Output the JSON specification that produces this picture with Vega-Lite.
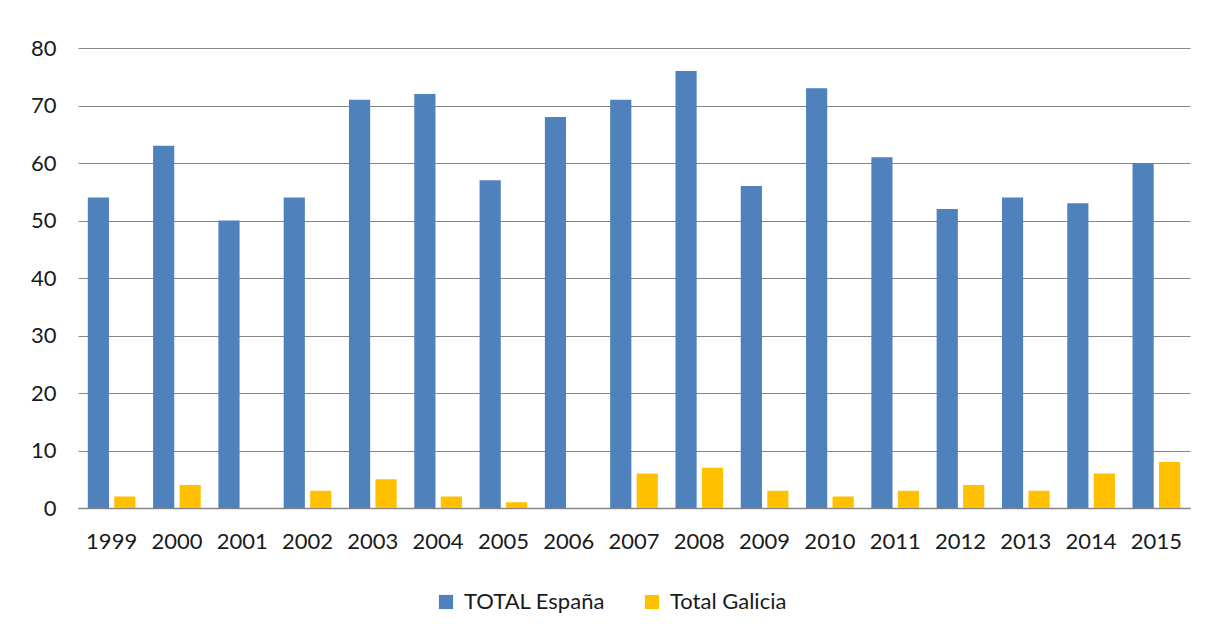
{
  "$schema": "https://vega.github.io/schema/vega-lite/v6.json",
  "width": 1112,
  "height": 460,
  "autosize": {"type": "none"},
  "padding": {"left": 78, "top": 48, "right": 18, "bottom": 132},
  "background": "white",
  "config": {
    "view": {"stroke": null},
    "font": "Lato",
    "axis": {"labelFont": "Lato", "labelColor": "#1a1a1a"},
    "legend": {"labelFont": "Lato"}
  },
  "data": {
    "values": [
      {"year": "1999", "series": "TOTAL España", "value": 54},
      {"year": "2000", "series": "TOTAL España", "value": 63},
      {"year": "2001", "series": "TOTAL España", "value": 50},
      {"year": "2002", "series": "TOTAL España", "value": 54},
      {"year": "2003", "series": "TOTAL España", "value": 71},
      {"year": "2004", "series": "TOTAL España", "value": 72},
      {"year": "2005", "series": "TOTAL España", "value": 57},
      {"year": "2006", "series": "TOTAL España", "value": 68},
      {"year": "2007", "series": "TOTAL España", "value": 71},
      {"year": "2008", "series": "TOTAL España", "value": 76},
      {"year": "2009", "series": "TOTAL España", "value": 56},
      {"year": "2010", "series": "TOTAL España", "value": 73},
      {"year": "2011", "series": "TOTAL España", "value": 61},
      {"year": "2012", "series": "TOTAL España", "value": 52},
      {"year": "2013", "series": "TOTAL España", "value": 54},
      {"year": "2014", "series": "TOTAL España", "value": 53},
      {"year": "2015", "series": "TOTAL España", "value": 60},
      {"year": "1999", "series": "Total Galicia", "value": 2},
      {"year": "2000", "series": "Total Galicia", "value": 4},
      {"year": "2001", "series": "Total Galicia", "value": 0},
      {"year": "2002", "series": "Total Galicia", "value": 3},
      {"year": "2003", "series": "Total Galicia", "value": 5},
      {"year": "2004", "series": "Total Galicia", "value": 2},
      {"year": "2005", "series": "Total Galicia", "value": 1},
      {"year": "2006", "series": "Total Galicia", "value": 0},
      {"year": "2007", "series": "Total Galicia", "value": 6},
      {"year": "2008", "series": "Total Galicia", "value": 7},
      {"year": "2009", "series": "Total Galicia", "value": 3},
      {"year": "2010", "series": "Total Galicia", "value": 2},
      {"year": "2011", "series": "Total Galicia", "value": 3},
      {"year": "2012", "series": "Total Galicia", "value": 4},
      {"year": "2013", "series": "Total Galicia", "value": 3},
      {"year": "2014", "series": "Total Galicia", "value": 6},
      {"year": "2015", "series": "Total Galicia", "value": 8}
    ]
  },
  "mark": {"type": "bar"},
  "encoding": {
    "x": {
      "field": "year",
      "type": "nominal",
      "scale": {"paddingInner": 0.27, "paddingOuter": 0.15},
      "axis": {
        "title": null,
        "labelAngle": 0,
        "labelFontSize": 22,
        "labelPadding": 23,
        "ticks": false,
        "domainColor": "#868686",
        "domainWidth": 1.5
      }
    },
    "xOffset": {
      "field": "series",
      "type": "nominal",
      "scale": {"paddingInner": 0.2}
    },
    "y": {
      "field": "value",
      "type": "quantitative",
      "scale": {"domain": [0, 80]},
      "axis": {
        "title": null,
        "values": [0, 10, 20, 30, 40, 50, 60, 70, 80],
        "labelFontSize": 22,
        "labelPadding": 22,
        "ticks": false,
        "domain": false,
        "gridColor": "#868686",
        "gridWidth": 1
      }
    },
    "color": {
      "field": "series",
      "type": "nominal",
      "scale": {"domain": ["TOTAL España", "Total Galicia"], "range": ["#4F81BD", "#FFC000"]},
      "legend": {
        "title": null,
        "orient": "none",
        "legendX": 357,
        "legendY": 543,
        "direction": "horizontal",
        "labelFontSize": 22,
        "labelColor": "#1a1a1a",
        "symbolType": "square",
        "symbolSize": 200,
        "symbolStrokeWidth": 0,
        "columnPadding": 36,
        "labelOffset": 7
      }
    }
  }
}
